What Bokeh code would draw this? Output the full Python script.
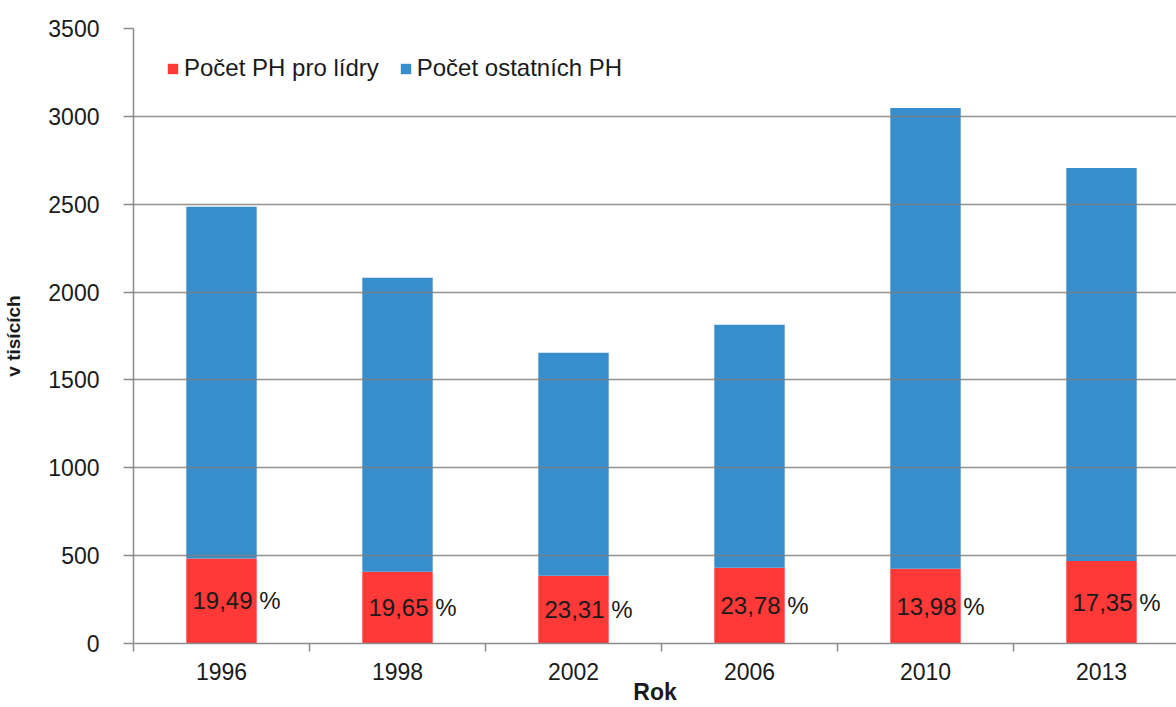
from bokeh.plotting import figure
from bokeh.models import ColumnDataSource, Range1d, FixedTicker
from bokeh.core.properties import value
from bokeh.embed import file_html
from bokeh.resources import INLINE

years = ["1996", "1998", "2002", "2006", "2010", "2013"]
leaders = [484, 409, 386, 431, 426, 469]
others = [2001, 1672, 1269, 1383, 2621, 2237]
pct_labels = ["19,49 %", "19,65 %", "23,31 %", "23,78 %", "13,98 %", "17,35 %"]
y_ticks = [0, 500, 1000, 1500, 2000, 2500, 3000, 3500]
series_names = ["Počet PH pro lídry", "Počet ostatních PH"]
colors = ["#FF3838", "#388DCD"]

FONT = "Liberation Sans"
TXT = "#1a1a1a"

centers = [i + 0.5 for i in range(len(years))]
src = ColumnDataSource(dict(
    x=centers, leaders=leaders, others=others,
    ymid=[v / 2 for v in leaders], lab=pct_labels,
))

p = figure(width=1176, height=707, output_backend="svg", toolbar_location=None,
           x_range=Range1d(0, 1043 / 176), y_range=Range1d(0, 3500),
           min_border_left=133, min_border_right=0, min_border_top=28,
           min_border_bottom=63)
p.outline_line_color = None

p.vbar_stack(["leaders", "others"], x="x", width=0.4, color=colors,
             line_color=None, source=src, legend_label=series_names)

p.text(x="x", y="ymid", text="lab", source=src, text_align="left",
       text_baseline="middle", x_offset=-29, text_font=value(FONT),
       text_font_size="24px", text_color=TXT)

# axes
p.yaxis.ticker = FixedTicker(ticks=y_ticks)
p.yaxis.major_tick_out = 10
p.yaxis.major_tick_in = 0
p.yaxis.minor_tick_out = 0
p.yaxis.minor_tick_in = 0
p.yaxis.major_label_standoff = 24
p.yaxis.axis_line_color = "#8c8c8c"
p.yaxis.axis_line_width = 1.5
p.yaxis.major_tick_line_color = "#8c8c8c"
p.yaxis.major_tick_line_width = 1.5
p.yaxis.axis_label = "v tisících"
p.yaxis.axis_label_text_font_style = "bold"
p.yaxis.axis_label_text_font_size = "19px"
p.yaxis.axis_label_standoff = 21

p.xaxis.ticker = FixedTicker(ticks=centers, minor_ticks=list(range(len(years) + 1)))
p.xaxis.major_label_overrides = {c: y for c, y in zip(centers, years)}
p.xaxis.major_tick_out = 0
p.xaxis.major_tick_in = 0
p.xaxis.minor_tick_out = 8
p.xaxis.minor_tick_in = 0
p.xaxis.minor_tick_line_color = "#8c8c8c"
p.xaxis.minor_tick_line_width = 1.5
p.xaxis.major_label_standoff = 11
p.xaxis.axis_line_color = "#8c8c8c"
p.xaxis.axis_line_width = 1.5
p.xaxis.axis_label = "Rok"
p.xaxis.axis_label_text_font_style = "bold"
p.xaxis.axis_label_text_font_size = "23px"
p.xaxis.axis_label_standoff = -4

for ax in (p.xaxis, p.yaxis):
    ax.major_label_text_font = FONT
    ax.major_label_text_font_size = "23px"
    ax.major_label_text_color = TXT
    ax.axis_label_text_font = FONT
    ax.axis_label_text_color = TXT

p.xgrid.grid_line_color = None
p.ygrid.ticker = FixedTicker(ticks=y_ticks)
p.ygrid.grid_line_color = "#7f7f7f"
p.ygrid.grid_line_alpha = 0.85
p.ygrid.grid_line_width = 1.5
p.ygrid.level = "overlay"

lg = p.legend[0]
lg.orientation = "horizontal"
lg.location = (33, 561)
lg.border_line_color = None
lg.background_fill_alpha = 0
lg.padding = 0
lg.margin = 0
lg.spacing = 20
lg.glyph_width = 13
lg.glyph_height = 13
lg.label_standoff = 5
lg.label_text_font = FONT
lg.label_text_font_size = "24px"
lg.label_text_color = TXT

open("out.html", "w").write(file_html(p, INLINE))
